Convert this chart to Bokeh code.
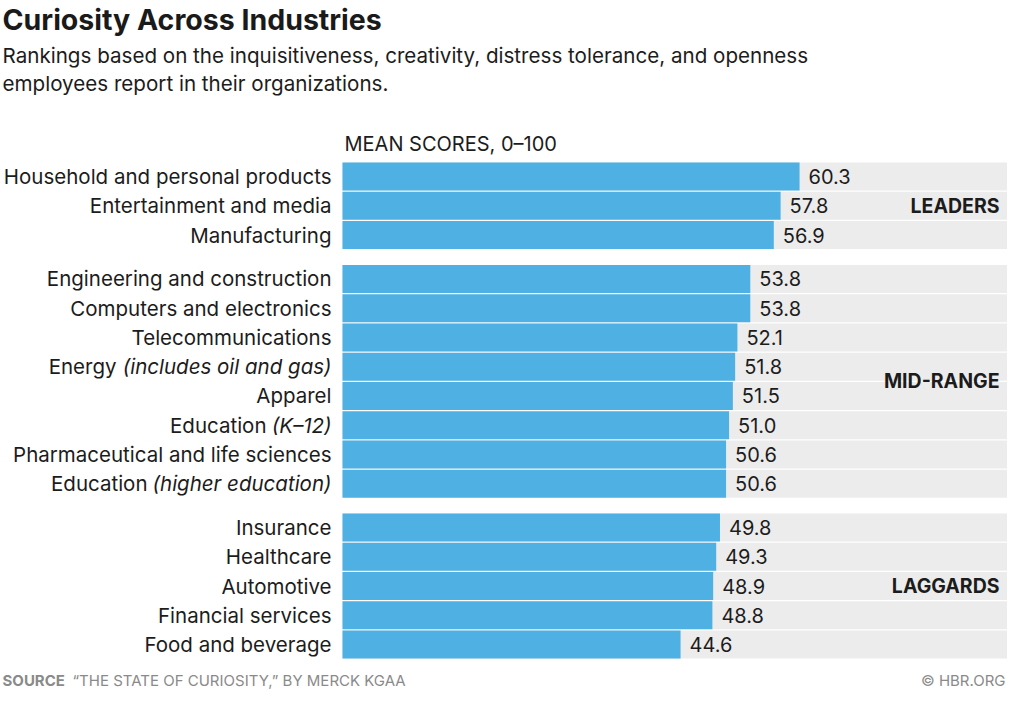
from bokeh.plotting import figure
from bokeh.models import Range1d, Label
from bokeh.core.properties import value
from bokeh.embed import file_html
from bokeh.resources import INLINE

# ---------------- data ----------------
industries = [
    "Household and personal products",
    "Entertainment and media",
    "Manufacturing",
    "Engineering and construction",
    "Computers and electronics",
    "Telecommunications",
    "Energy (includes oil and gas)",
    "Apparel",
    "Education (K\u201312)",
    "Pharmaceutical and life sciences",
    "Education (higher education)",
    "Insurance",
    "Healthcare",
    "Automotive",
    "Financial services",
    "Food and beverage",
]
scores = [60.3, 57.8, 56.9, 53.8, 53.8, 52.1, 51.8, 51.5, 51.0, 50.6, 50.6,
          49.8, 49.3, 48.9, 48.8, 44.6]
group_of = ["LEADERS"] * 3 + ["MID-RANGE"] * 8 + ["LAGGARDS"] * 5
group_names = ["LEADERS", "MID-RANGE", "LAGGARDS"]

title = "Curiosity Across Industries"
subtitle = ["Rankings based on the inquisitiveness, creativity, distress tolerance, and openness",
            "employees report in their organizations."]
axis_note = "MEAN SCORES, 0\u2013100"
source_label = "SOURCE"
source_text = "\u201cTHE STATE OF CURIOSITY,\u201d BY MERCK KGAA"
credit = "\u00a9 HBR.ORG"

# ---------------- layout ----------------
W, H = 1007, 693
PX = 7.58          # pixels per score unit
X0 = 342           # pixel of score 0
ROW = 29.25        # pixels per row
Y0 = 176           # pixel of first row centre
GAP = 0.5          # extra rows between groups

FONT = "Inter"
TXT = "#1c1c1c"
BAR = "#4fb0e3"
BAND = "#ececec"
GREY = "#8a8a8a"

gidx = [group_names.index(g) for g in group_of]
pos = [i + GAP * g for i, g in enumerate(gidx)]

p = figure(width=W, height=H, output_backend="svg", toolbar_location=None,
           x_range=Range1d(-X0 / PX, (W - X0) / PX),
           y_range=Range1d((H - Y0) / ROW, -Y0 / ROW),
           min_border=0, outline_line_color=None, background_fill_color="white",
           border_fill_color="white")
p.axis.visible = False
p.grid.visible = False

xmax = (W - X0) / PX
p.hbar(y=pos, left=0, right=xmax, height=28 / ROW, color=BAND, line_color=None)
p.hbar(y=pos, left=0, right=scores, height=28 / ROW, color=BAR, line_color=None)

# value labels
p.text(x=scores, y=pos, text=[f"{s:.1f}" for s in scores], x_offset=9,
       text_font=value(FONT), text_font_size="20px", text_color=TXT,
       text_align="left", text_baseline="middle")

# category labels (parenthetical part in italic)
LSIZE = "20.5px"
ITALIC_W = {"(includes oil and gas)": 207, "(K\u201312)": 57, "(higher education)": 176}
plain_y, plain_t, plain_off = [], [], []
ital_y, ital_t = [], []
for name, y in zip(industries, pos):
    if " (" in name:
        main, rest = name.split(" (", 1)
        rest = "(" + rest
        ital_y.append(y)
        ital_t.append(rest)
        plain_y.append(y)
        plain_t.append(main)
        plain_off.append(-(11 + ITALIC_W[rest] + 8))
    else:
        plain_y.append(y)
        plain_t.append(name)
        plain_off.append(-11)
p.text(x=[0] * len(plain_t), y=plain_y, text=plain_t, x_offset=plain_off,
       text_font=value(FONT), text_font_size=LSIZE, text_color=TXT,
       text_align="right", text_baseline="middle")
p.text(x=[0] * len(ital_t), y=ital_y, text=ital_t, x_offset=-11,
       text_font=value(FONT), text_font_size=LSIZE, text_color=TXT,
       text_font_style="italic", text_align="right", text_baseline="middle")

# group labels
gy = []
for k in range(len(group_names)):
    ps = [pp for pp, g in zip(pos, gidx) if g == k]
    gy.append(sum(ps) / len(ps))
p.text(x=[xmax] * 3, y=gy, text=group_names, x_offset=-8,
       text_font=value(FONT), text_font_size="19.5px", text_font_style="bold",
       text_color=TXT, text_align="right", text_baseline="middle")

# axis note
p.text(x=[0], y=[(143 - Y0) / ROW], text=[axis_note], x_offset=2,
       text_font=value(FONT), text_font_size="20px", text_color=TXT,
       text_align="left", text_baseline="middle")


def lab(txt, x, y_px, size, color=TXT, style="normal", align="left"):
    p.add_layout(Label(x=x, y=H - y_px, x_units="screen", y_units="screen",
                       text=txt, text_font=FONT, text_font_size=size,
                       text_color=color, text_font_style=style,
                       text_align=align, text_baseline="middle"))


lab(title, 2, 19, "28.5px", color="#1a1a1a", style="bold")
lab(subtitle[0], 2, 55, "20.6px")
lab(subtitle[1], 2, 83, "20.6px")
lab(source_label, 2, 680, "15px", color=GREY, style="bold")
lab(source_text, 72, 680, "15px", color=GREY)
lab(credit, W - 2, 680, "15px", color=GREY, align="right")

open("out.html", "w").write(file_html(p, INLINE))
